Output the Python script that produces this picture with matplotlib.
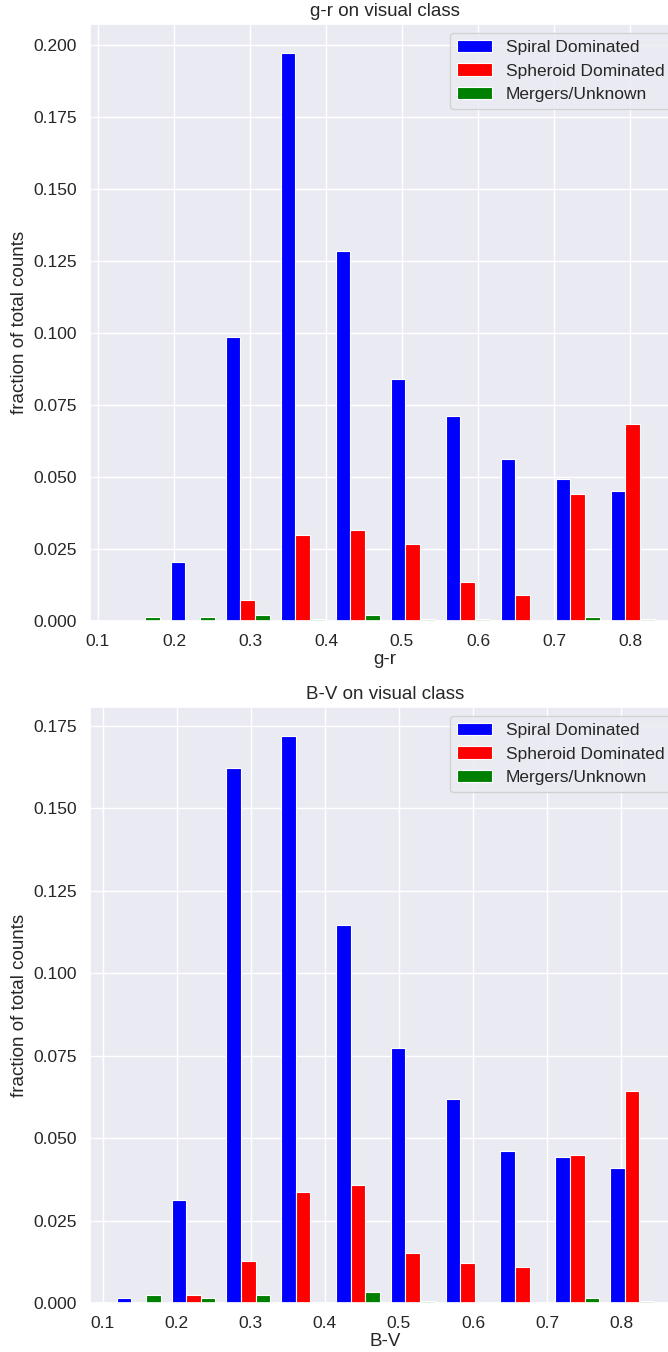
import numpy as np
import matplotlib
matplotlib.use("Agg")
import matplotlib.pyplot as plt
from matplotlib.ticker import FormatStrFormatter
import seaborn as sns

sns.set_theme(style="darkgrid")
plt.rcParams["font.family"] = ["Liberation Sans", "DejaVu Sans"]

labels = ["Spiral Dominated", "Spheroid Dominated", "Mergers/Unknown"]
colors = ["blue", "red", "green"]

# g-r: fraction of total counts per bin
gr_edges = np.linspace(0.1158, 0.8397, 11)
gr_spiral = [0.0, 0.0204, 0.0987, 0.1972, 0.1285, 0.0840, 0.0712, 0.0563, 0.0493, 0.0451]
gr_spheroid = [0.0, 0.0, 0.0074, 0.0300, 0.0316, 0.0267, 0.0135, 0.0090, 0.0441, 0.0684]
gr_merger = [0.0013, 0.0013, 0.0021, 0.0006, 0.0021, 0.0006, 0.0006, 0.0, 0.0013, 0.0006]

# B-V
bv_edges = np.linspace(0.1118, 0.8516, 11)
bv_spiral = [0.0014, 0.0313, 0.1622, 0.1719, 0.1146, 0.0772, 0.0618, 0.0460, 0.0443, 0.0409]
bv_spheroid = [0.0, 0.0024, 0.0127, 0.0338, 0.0358, 0.0153, 0.0120, 0.0110, 0.0449, 0.0643]
bv_merger = [0.0024, 0.0014, 0.0024, 0.0, 0.0034, 0.0006, 0.0, 0.0, 0.0014, 0.0006]


def draw_panel(ax, edges, series, title, xlabel, xlim, ylim):
    centers = 0.5 * (edges[:-1] + edges[1:])
    ax.hist([centers] * 3, bins=edges, weights=series, color=colors, label=labels,
            edgecolor="white", linewidth=0.8)
    ax.set_title(title, fontsize=13.5)
    ax.set_xlabel(xlabel, fontsize=13.5, labelpad=1)
    ax.set_ylabel("fraction of total counts", fontsize=13.5)
    ax.tick_params(labelsize=12.5)
    ax.set_xticks(np.arange(0.1, 0.81, 0.1))
    ax.set_yticks(np.arange(0, ylim[1], 0.025))
    ax.yaxis.set_major_formatter(FormatStrFormatter("%.3f"))
    ax.set_xlim(xlim)
    ax.set_ylim(ylim)
    ax.legend(loc="upper right", fontsize=12.5)


fig = plt.figure(figsize=(6.68, 13.52), dpi=100)
# right edge of the axes runs past the figure, as in the reference
ax1 = fig.add_axes([90 / 668, 1 - 621 / 1352, 590 / 668, 597 / 1352])
ax2 = fig.add_axes([90 / 668, 1 - 1303 / 1352, 590 / 668, 596 / 1352])

draw_panel(ax1, gr_edges, [gr_spiral, gr_spheroid, gr_merger], "g-r on visual class", "g-r",
           (0.0895, 0.0895 + 590 / 760), (0, 0.2073))
draw_panel(ax2, bv_edges, [bv_spiral, bv_spheroid, bv_merger], "B-V on visual class", "B-V",
           (0.0831, 0.0831 + 590 / 741), (0, 0.1807))

fig.savefig("out.png", dpi=100)
